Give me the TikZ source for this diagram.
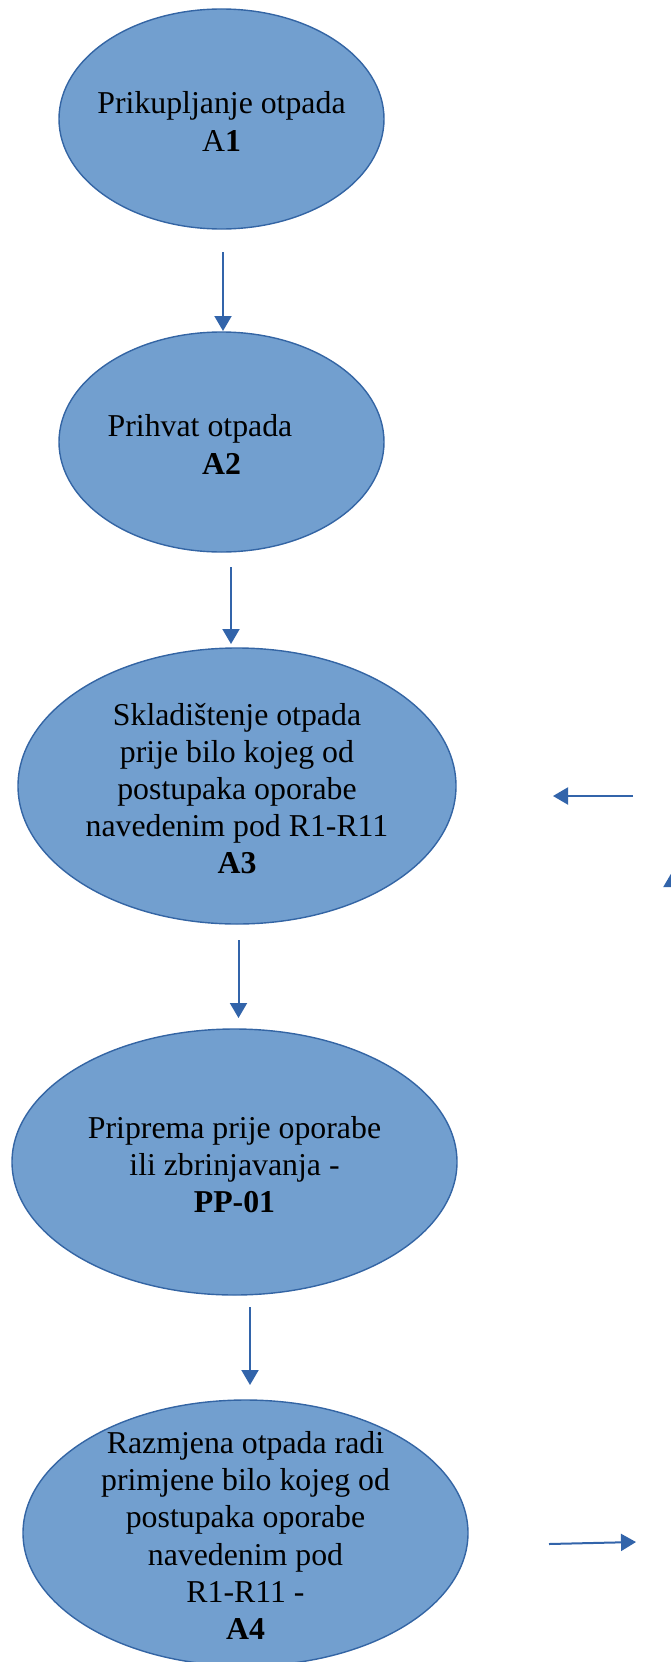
\documentclass[tikz,border=0pt]{standalone}
\usepackage{fontspec}
\setmainfont{Liberation Serif}
\usetikzlibrary{arrows.meta}
\usetikzlibrary{shapes.geometric}
\definecolor{bubble}{RGB}{114,159,207}
\definecolor{rim}{RGB}{52,101,164}
\definecolor{flow}{RGB}{50,100,170}
\tikzset{stage/.style={ellipse, draw=rim, fill=bubble, line width=1.4pt, inner sep=0pt}}
\tikzset{stage text/.style={align=center, yshift=-2.5pt, font=\fontsize{31.8}{37.2}\selectfont}}
\tikzset{flow it/.style={draw=flow, line width=2pt, -{Triangle[length=15pt,width=17pt]}}}

\begin{document}
\begin{tikzpicture}[x=1pt,y=-1pt]
    \useasboundingbox (0,0) rectangle (670,1662);

    \coordinate (E1) at (221.5, 119);
    \coordinate (E2) at (221.5, 442);
    \coordinate (E3) at (237, 786);
    \coordinate (E4) at (234.5, 1162);
    \coordinate (E5) at (245.5, 1533);

    \coordinate (P1) at (223, 252);
    \coordinate (P2) at (231, 567);
    \coordinate (P3) at (238.5, 940);
    \coordinate (P4) at (250, 1307);

    \coordinate (Q1) at (223, 331);
    \coordinate (Q2) at (231, 644);
    \coordinate (Q3) at (238.5, 1018);
    \coordinate (Q4) at (250, 1385);

    \coordinate (R0) at (633, 796);
    \coordinate (R1) at (553, 796);
    \coordinate (U0) at (672, 1000);
    \coordinate (U1) at (672, 872);
    \coordinate (B0) at (549, 1544);
    \coordinate (B1) at (636, 1542);

    \node[stage, minimum width=325pt, minimum height=220pt] (S1) at (E1) {};
    \node[stage, minimum width=325pt, minimum height=220pt] (S2) at (E2) {};
    \node[stage, minimum width=438pt, minimum height=276pt] (S3) at (E3) {};
    \node[stage, minimum width=445pt, minimum height=266pt] (S4) at (E4) {};
    \node[stage, minimum width=445pt, minimum height=266pt] (S5) at (E5) {};

    \draw[flow it] (P1) -- (Q1);
    \draw[flow it] (P2) -- (Q2);
    \draw[flow it] (P3) -- (Q3);
    \draw[flow it] (P4) -- (Q4);

    %\draw[flow it] (S5.east) -- (B0);
    \draw[flow it] (R0) -- (R1);
    \draw[flow it] (U0) -- (U1);
    \draw[flow it] (B0) -- (B1);

%labels
    \node[stage text] (T1) at (E1) {Prikupljanje otpada\\A\textbf{1}};
    \node[stage text] (T2) at (E2) {Prihvat otpada\hspace*{43pt}\\\textbf{A2}};
    \node[stage text] (T3) at (E3) {Skladištenje otpada\\prije bilo kojeg od\\postupaka oporabe\\navedenim pod R1-R11\\\textbf{A3}};
    \node[stage text] (T4) at (E4) {Priprema prije oporabe\\ili zbrinjavanja -\\\textbf{PP-01}};
    \node[stage text] (T5) at (E5) {Razmjena otpada radi\\primjene bilo kojeg od\\postupaka oporabe\\navedenim pod\\R1-R11 -\\\textbf{A4}};
\end{tikzpicture}
\end{document}
